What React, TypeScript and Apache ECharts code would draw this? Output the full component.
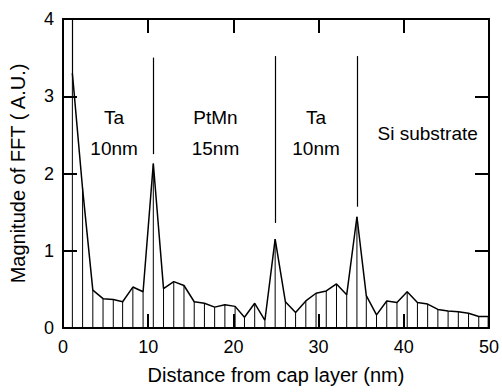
import React, { useEffect, useRef } from "react";
import * as echarts from "echarts";

const distances = [
  1.1, 2.3, 3.5, 4.7, 5.9, 7.0, 8.2, 9.4, 10.6, 11.8, 13.0, 14.2, 15.4, 16.6,
  17.8, 19.0, 20.2, 21.3, 22.5, 23.7, 24.9, 26.1, 27.3, 28.5, 29.7, 30.9, 32.1,
  33.3, 34.5, 35.6, 36.8, 38.0, 39.2, 40.4, 41.6, 42.8, 44.0, 45.2, 46.4, 47.6,
  48.8, 49.9,
];
const magnitudes = [
  3.3, 1.8, 0.49, 0.38, 0.37, 0.34, 0.53, 0.47, 2.13, 0.51, 0.6, 0.55, 0.34,
  0.32, 0.27, 0.3, 0.28, 0.14, 0.32, 0.1, 1.15, 0.34, 0.2, 0.35, 0.45, 0.48,
  0.57, 0.43, 1.44, 0.42, 0.17, 0.35, 0.33, 0.47, 0.33, 0.31, 0.24, 0.22, 0.21,
  0.19, 0.15, 0.15,
];
const boundaryX = [1.1, 10.6, 24.9, 34.5];
const boundaryTop = [4, 3.5, 3.52, 3.52];
const boundaryBottom = [3.3, 2.25, 1.36, 1.57];
const layerLabels = ["Ta\n10nm", "PtMn\n15nm", "Ta\n10nm", "Si substrate"];
const layerLabelX = [6.0, 17.9, 29.7, 42.8];
const layerLabelY = [2.53, 2.53, 2.53, 2.52];

const xTitle = "Distance from cap layer (nm)";
const yTitle = "Magnitude of FFT ( A.U.)";

export default function App() {
  const ref = useRef<HTMLDivElement>(null);
  useEffect(() => {
    const chart = echarts.init(ref.current!, null, { renderer: "svg" });
    const font = "'Liberation Sans', Arial, Helvetica, sans-serif";
    const line = { show: true, onZero: false, lineStyle: { color: "#000", width: 2 } };
    const tick = { show: true, inside: true, length: 14, lineStyle: { color: "#000", width: 2 } };
    const label = { color: "#000", fontSize: 18, fontFamily: font };
    chart.setOption({
      animation: false,
      grid: { left: 62, right: 11, top: 19, bottom: 64 },
      xAxis: [
        {
          type: "value", min: 0, max: 50, interval: 10, position: "bottom",
          axisLine: line, axisTick: tick, splitLine: { show: false },
          axisLabel: { ...label, margin: 10 },
          name: xTitle, nameLocation: "middle", nameGap: 37,
          nameTextStyle: { color: "#000", fontSize: 20, fontFamily: font },
        },
        {
          type: "value", min: 0, max: 50, interval: 10, position: "top",
          axisLine: line, axisTick: tick, splitLine: { show: false },
          axisLabel: { show: false },
        },
      ],
      yAxis: [
        {
          type: "value", min: 0, max: 4, interval: 1, position: "left",
          axisLine: line, axisTick: tick, splitLine: { show: false },
          axisLabel: { ...label, margin: 9 },
          name: yTitle, nameLocation: "middle", nameGap: 35,
          nameTextStyle: { color: "#000", fontSize: 20, fontFamily: font },
        },
        {
          type: "value", min: 0, max: 4, interval: 1, position: "right",
          axisLine: line, axisTick: tick, splitLine: { show: false },
          axisLabel: { show: false },
        },
      ],
      series: [
        {
          type: "custom",
          clip: true,
          silent: true,
          data: distances.map((d, i) => [d, magnitudes[i]]),
          renderItem: (params: any, api: any) => {
            const p0 = api.coord([api.value(0), 0]);
            const p1 = api.coord([api.value(0), api.value(1)]);
            return {
              type: "line",
              shape: { x1: p0[0], y1: p0[1], x2: p1[0], y2: p1[1] },
              style: { stroke: "#000", lineWidth: 1 },
            };
          },
        },
        {
          type: "line",
          data: distances.map((d, i) => [d, magnitudes[i]]),
          symbol: "none",
          silent: true,
          lineStyle: { color: "#000", width: 1.5 },
          markLine: {
            silent: true,
            symbol: ["none", "none"],
            label: { show: false },
            lineStyle: { type: "solid", color: "#000", width: 1.2 },
            data: boundaryX.map((x, i) => [
              { coord: [x, boundaryTop[i]] },
              { coord: [x, boundaryBottom[i]] },
            ]),
          },
        },
      ],
    });
    const graphics = layerLabels.map((t, i) => {
      const p = chart.convertToPixel({ gridIndex: 0 }, [layerLabelX[i], layerLabelY[i]]) as number[];
      return {
        type: "text",
        x: p[0],
        y: p[1],
        style: {
          text: t,
          fill: "#000",
          fontSize: 19,
          fontFamily: font,
          lineHeight: 31,
          align: "center",
          verticalAlign: "middle",
        },
      };
    });
    chart.setOption({ graphic: graphics });
    return () => chart.dispose();
  }, []);
  return (
    <div
      ref={ref}
      style={{ position: "fixed", left: 0, top: 0, width: 502, height: 392, background: "#fff" }}
    />
  );
}
